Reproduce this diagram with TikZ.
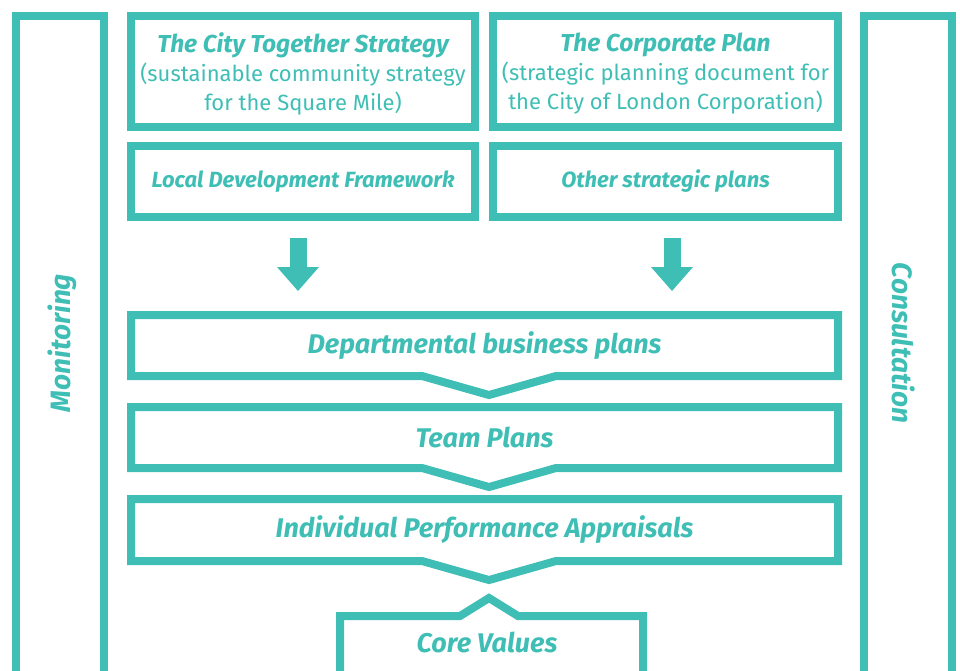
\documentclass[tikz,border=0pt]{standalone}
\usepackage{fontspec}
\setmainfont{Fira Sans}
\usetikzlibrary{arrows.meta,positioning,calc}
\definecolor{cityteal}{RGB}{62,190,180}

\begin{document}
\begin{tikzpicture}
  [x=1pt,y=-1pt,
   frame/.style={draw=cityteal,line width=8pt,inner sep=0pt},
   plain/.style={inner sep=0pt,outer sep=0pt},
   head/.style={text=cityteal,font=\fontsize{24.5}{29}\selectfont\bfseries\itshape,align=center},
   level/.style={text=cityteal,font=\fontsize{27}{30}\selectfont\bfseries\itshape},
   small/.style={text=cityteal,font=\fontsize{22}{26}\selectfont\bfseries\itshape},
   side/.style={text=cityteal,font=\fontsize{28}{32}\selectfont\bfseries\itshape},
   flow/.style={cityteal,line width=17pt,-{Triangle[width=42pt,length=24pt,line width=0pt]}}]

\useasboundingbox (0,0) rectangle (960,670);

% side bars
\node [frame,minimum width=88pt,minimum height=700pt,anchor=north] (monbar) at (60,12) {};
\node [frame,minimum width=88pt,minimum height=700pt,anchor=north] (conbar) at (908,12) {};
\node [side,rotate=90] (mon) at (62,343) {Monitoring};
\node [side,rotate=-90] (con) at (904,343) {Consultation};

% strategy boxes
\node [frame,minimum width=344pt,minimum height=111pt] (cts) at (303,71.5) {};
\node [head] at ([yshift=-2pt]cts.center) {The City Together Strategy\\
  {\normalfont\fontsize{22}{29}\selectfont (sustainable community strategy}\\
  {\normalfont\fontsize{22}{29}\selectfont for the Square Mile)}};
\node [frame,minimum width=345pt,minimum height=111pt] (corp) at (665.5,71.5) {};
\node [head] at ([yshift=-2pt]corp.center) {The Corporate Plan\\
  {\normalfont\fontsize{22}{29}\selectfont (strategic planning document for}\\
  {\normalfont\fontsize{22}{29}\selectfont the City of London Corporation)}};

\node [frame,minimum width=344pt,minimum height=71pt] (ldf) at (303,181.5) {};
\node [small] at (ldf) {Local Development Framework};
\node [frame,minimum width=345pt,minimum height=71pt] (other) at (665.5,181.5) {};
\node [small] at (other) {Other strategic plans};

\draw [flow] ($(ldf.south)+(-5,17)$) -- ($(ldf.south)+(-5,70)$);
\draw [flow] ($(other.south)+(6.5,17)$) -- ($(other.south)+(6.5,70)$);

% plan levels
\node [plain,minimum width=707pt,minimum height=61pt] (dept) at (484.5,345.5) {};
\node [plain,minimum width=707pt,minimum height=61pt] (team) at (484.5,437.5) {};
\node [plain,minimum width=707pt,minimum height=62pt] (ipa) at (484.5,530) {};

\foreach \lvl in {dept,team,ipa}
  \draw [frame,miter limit=20] (\lvl.north west) -- (\lvl.north east) -- (\lvl.south east)
    -- ($(\lvl.south)+(71.5,0)$) -- ($(\lvl.south)+(4.5,19)$) -- ($(\lvl.south)+(-62.5,0)$)
    -- (\lvl.south west) -- cycle;

\node [level] at (dept) {Departmental business plans};
\node [level] at (team) {Team Plans};
\node [level] at (ipa) {Individual Performance Appraisals};

% core values
\node [plain,minimum width=303pt,minimum height=80pt,anchor=north] (core) at (491.5,616) {};
\draw [frame,miter limit=20] (core.south west) -- (core.north west) -- ($(core.north)+(-31.5,0)$)
  -- ($(core.north)+(-2.5,-18)$) -- ($(core.north)+(26.5,0)$) -- (core.north east) -- (core.south east);
\node [level] (corelbl) at (487,642) {Core Values};

\end{tikzpicture}
\end{document}
